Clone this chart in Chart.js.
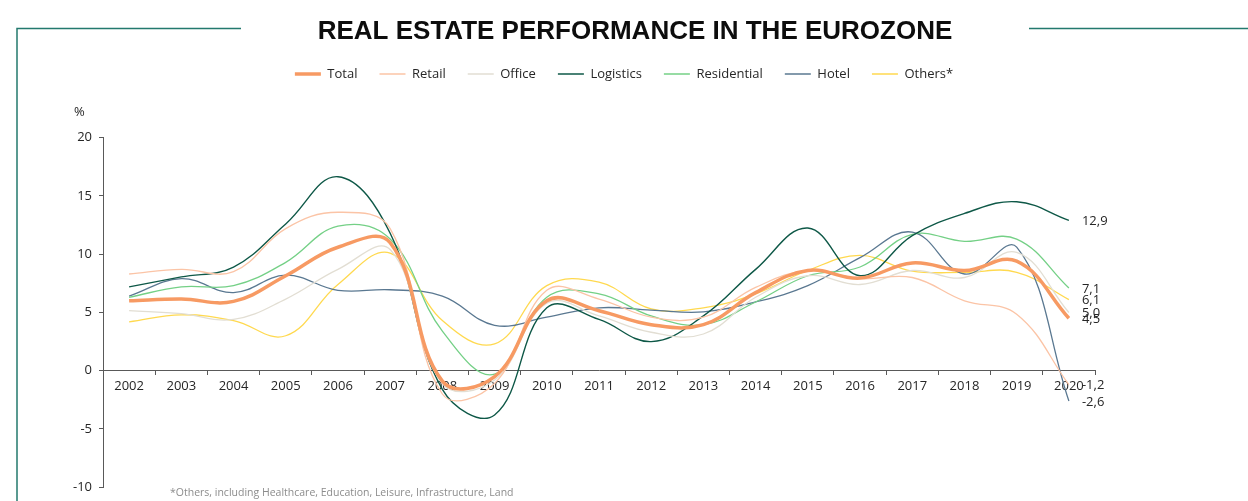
<!DOCTYPE html>
<html><head><meta charset="utf-8">
<script src="https://cdn.jsdelivr.net/npm/chart.js@4/dist/chart.umd.min.js"></script>
<style>html,body{margin:0;padding:0;background:#fff;overflow:hidden}</style>
</head><body>
<canvas id="c" width="1248" height="501" style="width:1248px;height:501px;display:block"></canvas>
<script>
const TITLE = 'REAL ESTATE PERFORMANCE IN THE EUROZONE';
const FOOTNOTE = '*Others, including Healthcare, Education, Leisure, Infrastructure, Land';
const UNIT = '%';
const years = ['2002','2003','2004','2005','2006','2007','2008','2009','2010','2011','2012','2013','2014','2015','2016','2017','2018','2019','2020'];
const yTicks = [-10, -5, 0, 5, 10, 15, 20];

const total       = [6.0, 6.15, 5.95, 8.15, 10.6, 11.0, -0.9, -0.5, 6.0, 5.15, 3.95, 3.95, 6.7, 8.6, 7.95, 9.25, 8.6, 9.4, 4.5];
const retail      = [8.3, 8.7, 8.5, 12.2, 13.6, 12.2, -2.0, -1.1, 6.9, 6.15, 4.6, 4.6, 7.15, 8.6, 7.9, 8.0, 6.0, 4.85, -1.2];
const office      = [5.15, 4.9, 4.4, 6.15, 8.7, 10.4, -1.1, -0.8, 5.8, 4.7, 3.3, 3.15, 6.3, 8.15, 7.4, 8.6, 8.0, 10.15, 5.0];
const logistics   = [7.2, 8.05, 8.9, 12.6, 16.65, 11.8, -1.6, -3.8, 5.4, 4.4, 2.5, 4.7, 8.7, 12.25, 8.15, 11.6, 13.5, 14.5, 12.9];
const residential = [6.3, 7.2, 7.3, 9.3, 12.4, 11.3, 3.4, -0.3, 6.3, 6.6, 4.7, 3.95, 5.9, 8.15, 8.9, 11.7, 11.1, 11.3, 7.1];
const hotel       = [6.4, 7.9, 6.7, 8.2, 6.9, 6.95, 6.4, 3.9, 4.6, 5.4, 5.2, 5.05, 5.9, 7.3, 9.7, 11.9, 8.3, 10.6, -2.6];
const others      = [4.2, 4.8, 4.3, 3.0, 7.4, 10.1, 4.3, 2.3, 7.3, 7.6, 5.3, 5.4, 6.6, 8.6, 9.9, 8.55, 8.45, 8.45, 6.1];

const seriesNames = ['Total','Retail','Office','Logistics','Residential','Hotel','Others*'];
const seriesData = [total, retail, office, logistics, residential, hotel, others];
const seriesColors = ['#F79A63','#FBC4A6','#E2DED3','#0E5847','#74D086','#5A7891','#FFD94F'];
const seriesWidths = [3.5, 1.3, 1.3, 1.4, 1.3, 1.3, 1.3];

const FONT = '"Open Sans", "Liberation Sans", sans-serif';
const TXT = '#262626';
const AXIS = '#595959';
const PAD_TOP = 45.5;
const PLOT_TOP = 137.7;

const decor = {
  id: 'decor',
  afterInit(chart) {
    const lg = chart.legend;
    if (lg && !lg._patched) {
      const f = lg.fit.bind(lg);
      lg.fit = function () { f(); this.height = PLOT_TOP - PAD_TOP; };
      lg._patched = true;
    }
  },
  beforeDraw(chart) {
    const ctx = chart.ctx;
    ctx.save();
    ctx.strokeStyle = '#23796E';
    ctx.lineWidth = 1.5;
    ctx.beginPath();
    ctx.moveTo(17, 501); ctx.lineTo(17, 28.5); ctx.lineTo(241, 28.5);
    ctx.stroke();
    ctx.beginPath();
    ctx.moveTo(1029, 28.5); ctx.lineTo(1248, 28.5);
    ctx.stroke();
    ctx.restore();
  },
  afterDraw(chart) {
    const ctx = chart.ctx;
    const xs = chart.scales.x, ys = chart.scales.y;
    ctx.save();
    ctx.font = 'bold 26px "Liberation Sans", Arial, sans-serif';
    ctx.fillStyle = '#0d0d0d';
    ctx.textAlign = 'center';
    ctx.textBaseline = 'alphabetic';
    ctx.fillText(TITLE, 635, 38.5);
    ctx.font = '13px ' + FONT;
    ctx.fillStyle = TXT;
    ctx.textAlign = 'left';
    ctx.textBaseline = 'middle';
    ctx.fillText(UNIT, 74, 112);
    const lastIdx = years.length - 1;
    const lx = xs.getPixelForValue(lastIdx) + 13;
    seriesData.forEach(arr => {
      const v = arr[lastIdx];
      ctx.fillText(v.toFixed(1).replace('.', ','), lx, ys.getPixelForValue(v) + 1);
    });
    ctx.font = '10.5px ' + FONT;
    ctx.fillStyle = '#8C8C8C';
    ctx.fillText(FOOTNOTE, 170, 493);
    ctx.restore();
  }
};

new Chart(document.getElementById('c'), {
  type: 'line',
  data: {
    labels: years,
    datasets: seriesNames.map((n, i) => ({
      label: n,
      data: seriesData[i],
      borderColor: seriesColors[i],
      backgroundColor: seriesColors[i],
      borderWidth: seriesWidths[i],
      pointRadius: 0,
      pointHoverRadius: 0,
      tension: 0.4,
      fill: false
    }))
  },
  options: {
    responsive: false,
    animation: false,
    devicePixelRatio: 1,
    layout: { padding: { top: PAD_TOP, left: 0, right: 0, bottom: 0 } },
    plugins: {
      title: { display: false },
      tooltip: { enabled: false },
      legend: {
        display: true,
        position: 'top',
        labels: {
          usePointStyle: true,
          pointStyle: 'line',
          pointStyleWidth: 26,
          boxHeight: 13,
          padding: 22,
          color: TXT,
          font: { family: FONT, size: 13 }
        }
      }
    },
    scales: {
      x: {
        type: 'category',
        position: { y: 0 },
        offset: true,
        grid: { display: true, offset: true, drawOnChartArea: false, drawTicks: true, tickLength: 4, color: AXIS },
        border: { display: true, color: AXIS, width: 1 },
        ticks: { color: TXT, font: { family: FONT, size: 13 }, padding: 4, maxRotation: 0, autoSkip: false }
      },
      y: {
        min: -10, max: 20,
        afterBuildTicks(s) { s.ticks = yTicks.map(v => ({ value: v })); },
        grid: { display: true, drawOnChartArea: false, drawTicks: true, tickLength: 4, color: AXIS },
        border: { display: true, color: AXIS, width: 1 },
        ticks: { color: TXT, font: { family: FONT, size: 13 }, padding: 7 },
        afterFit(s) {
          s.width = 103;
          s.paddingBottom = 13.8;
          s.paddingRight = 153;
        }
      }
    }
  },
  plugins: [decor]
});
</script>
</body></html>
